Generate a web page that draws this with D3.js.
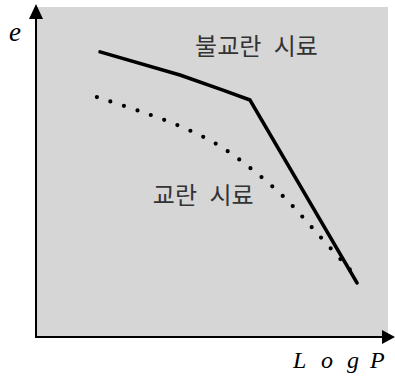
<!doctype html>
<html>
  <head>
    <meta charset="utf-8">
    <title>e - log P</title>
    <script src="https://d3js.org/d3.v7.min.js"></script>
    <style>
      body { margin: 0; background: #fff; }
    </style>
  </head>
  <body>
    <script>
      // 불교란 시료 (solid)  [log P, e]
      const undisturbed = [
        [1.82, 8.64], [4.09, 7.94], [5.31, 7.48], [6.08, 7.18], [9.12, 1.64]
      ];
      // 교란 시료 (dotted)
      const disturbed = [
        [1.73, 7.27], [2.93, 6.85], [4.09, 6.39], [5.17, 5.82], [6.16, 5.06],
        [7.10, 4.18], [7.93, 3.21], [8.75, 2.24], [8.98, 1.97]
      ];
      const seriesLabels = ['불교란 시료', '교란 시료'];
      const labelPos = [[4.52, 8.55], [3.32, 4.03]];

      const width = 395;
      const height = 379;
      const plot = { left: 36, right: 388, top: 7, bottom: 337 };
      const serif = "'Liberation Serif', 'Times New Roman', Times, serif";

      const svg = d3.select('body').append('svg')
          .attr('width', width)
          .attr('height', height);

      const x = d3.scaleLinear().domain([0, 10]).range([plot.left, plot.right]);
      const y = d3.scaleLinear().domain([0, 10]).range([plot.bottom, plot.top]);

      // 배경
      svg.append('rect')
          .attr('x', x(0))
          .attr('y', y(10))
          .attr('width', x(10) - x(0))
          .attr('height', y(0) - y(10))
          .attr('fill', '#d6d6d6');

      const line = d3.line()
          .x(d => x(d[0]))
          .y(d => y(d[1]));

      svg.append('path')
          .datum(undisturbed)
          .attr('d', line)
          .attr('fill', 'none')
          .attr('stroke', '#000')
          .attr('stroke-width', 3.6)
          .attr('stroke-linejoin', 'round')
          .attr('stroke-linecap', 'round');

      svg.append('path')
          .datum(disturbed)
          .attr('d', line.curve(d3.curveCatmullRom))
          .attr('fill', 'none')
          .attr('stroke', '#000')
          .attr('stroke-width', 4.2)
          .attr('stroke-linecap', 'round')
          .attr('stroke-dasharray', '0 14.2');

      // 축
      svg.append('line')
          .attr('x1', x(0)).attr('y1', y(0))
          .attr('x2', x(0)).attr('y2', 16)
          .attr('stroke', '#000').attr('stroke-width', 2);
      svg.append('path')
          .attr('d', `M${x(0)},4 L${x(0) - 7},19 L${x(0) + 7},19 Z`)
          .attr('fill', '#000');

      svg.append('line')
          .attr('x1', x(0) - 1).attr('y1', y(0))
          .attr('x2', 385).attr('y2', y(0))
          .attr('stroke', '#000').attr('stroke-width', 2);
      svg.append('path')
          .attr('d', `M395,${y(0)} L382,${y(0) - 7} L382,${y(0) + 7} Z`)
          .attr('fill', '#000');

      // 축 제목
      svg.append('text')
          .attr('x', 9)
          .attr('y', 41)
          .style('font-family', serif)
          .style('font-style', 'italic')
          .style('font-size', '27px')
          .text('e');

      svg.append('text')
          .attr('x', '293 321 347 370')
          .attr('y', 368)
          .style('font-family', serif)
          .style('font-style', 'italic')
          .style('font-size', '24px')
          .text('LogP');

      // 시료 라벨
      svg.selectAll('.lbl')
        .data(seriesLabels)
        .enter().append('text')
          .attr('class', 'lbl')
          .attr('x', (d, i) => x(labelPos[i][0]))
          .attr('y', (d, i) => y(labelPos[i][1]))
          .style('font-family', "'Noto Sans CJK KR', sans-serif")
          .style('font-size', '24px')
          .style('word-spacing', '7px')
          .attr('fill', '#333')
          .text(d => d);
    </script>
  </body>
</html>
